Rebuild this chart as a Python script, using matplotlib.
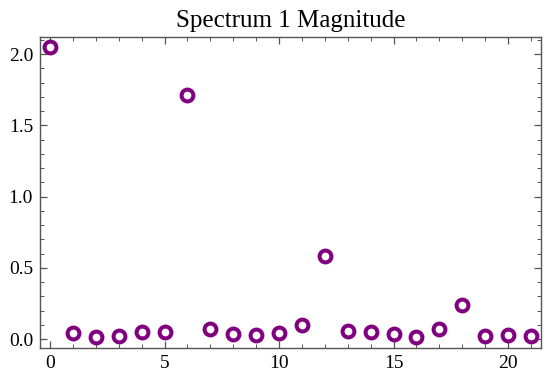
import matplotlib.pyplot as plt
from matplotlib.ticker import MultipleLocator

# -*- DATA -*-
bins = list(range(22))
magnitude = [2.05, 0.04, 0.016, 0.023, 0.047, 0.047, 1.71, 0.068, 0.035, 0.026,
             0.04, 0.10, 0.58, 0.056, 0.051, 0.035, 0.014, 0.068, 0.236, 0.019,
             0.026, 0.021]

purple = '#800080'
frame_colour = '#555555'

plt.rcParams['font.family'] = ['Liberation Serif', 'DejaVu Serif']

fig = plt.figure(figsize=(5.44, 3.78), dpi=100)
ax = fig.add_axes([40 / 544, 1 - 348 / 378, 501 / 544, 311 / 378])

ax.plot(bins, magnitude, linestyle='none', marker='o', markersize=8.5,
        markerfacecolor='white', markeredgecolor=purple, markeredgewidth=2.9)

ax.set_xlim(-0.44, 21.44)
ax.set_ylim(-0.063, 2.12)

ax.xaxis.set_major_locator(MultipleLocator(5))
ax.xaxis.set_minor_locator(MultipleLocator(1))
ax.yaxis.set_major_locator(MultipleLocator(0.5))
ax.yaxis.set_minor_locator(MultipleLocator(0.1))
ax.yaxis.set_major_formatter(lambda v, pos: f'{v:.1f}')

ax.tick_params(which='both', direction='in', top=True, right=True,
               color=frame_colour, labelsize=14)
ax.tick_params(which='major', length=5, width=0.9)
ax.tick_params(which='minor', length=3, width=0.7)
ax.tick_params(axis='x', pad=5)
ax.tick_params(axis='y', pad=5)
for spine in ax.spines.values():
    spine.set_color(frame_colour)
    spine.set_linewidth(1)

ax.set_title('Spectrum 1 Magnitude', fontsize=18, pad=7)

fig.savefig('out.png', dpi=100)
